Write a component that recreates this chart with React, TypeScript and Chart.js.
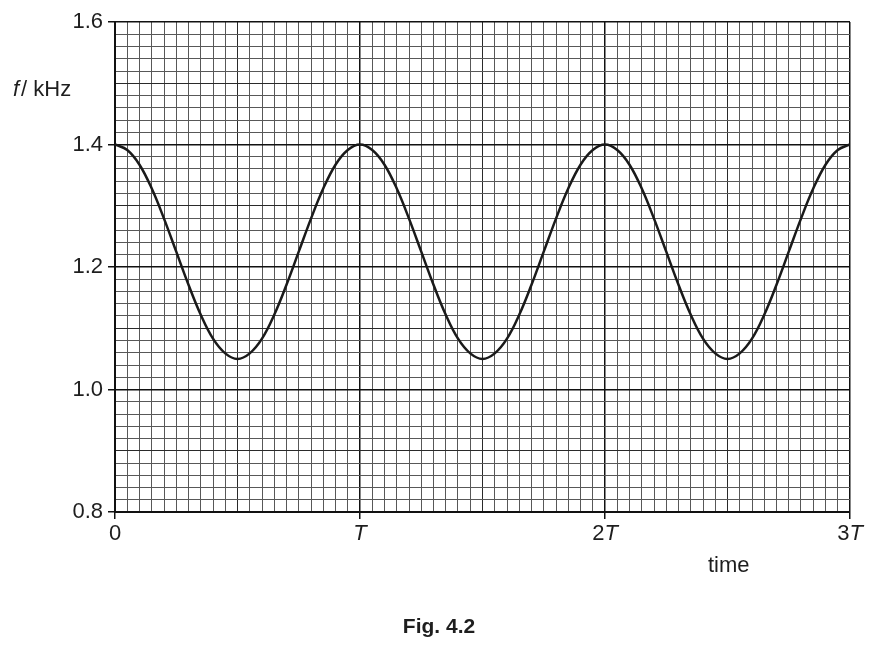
import React, { useEffect, useRef } from "react";
import { Chart, registerables } from "chart.js";

Chart.register(...registerables);

// time in units of the period T
const timeValues = [
  0, 0.05, 0.1, 0.15, 0.2, 0.25, 0.3, 0.35, 0.4, 0.45,
  0.5, 0.55, 0.6, 0.65, 0.7, 0.75, 0.8, 0.85, 0.9, 0.95,
  1.0, 1.05, 1.1, 1.15, 1.2, 1.25, 1.3, 1.35, 1.4, 1.45,
  1.5, 1.55, 1.6, 1.65, 1.7, 1.75, 1.8, 1.85, 1.9, 1.95,
  2.0, 2.05, 2.1, 2.15, 2.2, 2.25, 2.3, 2.35, 2.4, 2.45,
  2.5, 2.55, 2.6, 2.65, 2.7, 2.75, 2.8, 2.85, 2.9, 2.95,
  3.0,
];
// frequency f / kHz
const freqValues = [
  1.4, 1.391, 1.367, 1.328, 1.279, 1.225, 1.171, 1.122, 1.083, 1.059,
  1.05, 1.059, 1.083, 1.122, 1.171, 1.225, 1.279, 1.328, 1.367, 1.391,
  1.4, 1.391, 1.367, 1.328, 1.279, 1.225, 1.171, 1.122, 1.083, 1.059,
  1.05, 1.059, 1.083, 1.122, 1.171, 1.225, 1.279, 1.328, 1.367, 1.391,
  1.4, 1.391, 1.367, 1.328, 1.279, 1.225, 1.171, 1.122, 1.083, 1.059,
  1.05, 1.059, 1.083, 1.122, 1.171, 1.225, 1.279, 1.328, 1.367, 1.391,
  1.4,
];
const xTickValues = [0, 1, 2, 3];
const xTickLabels = [
  [{ t: "0", it: false }],
  [{ t: "T", it: true }],
  [{ t: "2", it: false }, { t: "T", it: true }],
  [{ t: "3", it: false }, { t: "T", it: true }],
];
const yAxisTitleParts = [
  { t: "f", it: true },
  { t: "/", it: false },
  { t: " kHz", it: false },
];
const xAxisTitle = "time";
const figureCaption = "Fig. 4.2";

const FAMILY = "'Liberation Sans', Arial, Helvetica, sans-serif";
const FONT_SIZE = 22;

const textPlugin = {
  id: "textPlugin",
  afterDraw(chart: any) {
    const ctx = chart.ctx as CanvasRenderingContext2D;
    const xs = chart.scales.x;
    ctx.save();
    ctx.fillStyle = "#1e1e1e";
    ctx.textBaseline = "alphabetic";
    ctx.textAlign = "left";
    const fontFor = (it: boolean) =>
      `${it ? "italic " : ""}${FONT_SIZE}px ${FAMILY}`;
    xTickValues.forEach((v, i) => {
      const parts = xTickLabels[i];
      let total = 0;
      const widths = parts.map((p) => {
        ctx.font = fontFor(p.it);
        const w = ctx.measureText(p.t).width;
        total += w;
        return w;
      });
      let x = xs.getPixelForValue(v) - total / 2;
      const y = chart.chartArea.bottom + 28;
      parts.forEach((p, j) => {
        ctx.font = fontFor(p.it);
        ctx.fillText(p.t, x, y);
        x += widths[j];
      });
    });
    let tx = 13;
    yAxisTitleParts.forEach((p) => {
      ctx.font = fontFor(p.it);
      ctx.fillText(p.t, tx, 96);
      tx += ctx.measureText(p.t).width + (p.it ? 2 : 0);
    });
    ctx.font = fontFor(false);
    ctx.fillText(xAxisTitle, 708, 572);
    ctx.font = `bold 21px ${FAMILY}`;
    ctx.textAlign = "center";
    ctx.fillText(figureCaption, 439, 633);
    ctx.restore();
  },
};

export default function App() {
  const ref = useRef<HTMLCanvasElement | null>(null);
  useEffect(() => {
    if (!ref.current) return;
    const points = timeValues.map((t, i) => ({ x: t, y: freqValues[i] }));
    const isMult = (v: number, step: number) =>
      Math.abs(Math.round(v / step) * step - v) < 1e-6;
    const chart = new Chart(ref.current, {
      type: "line",
      data: {
        datasets: [
          {
            data: points,
            borderColor: "#1a1a1a",
            borderWidth: 2.5,
            pointRadius: 0,
            fill: false,
            tension: 0.4,
          },
        ],
      },
      options: {
        animation: false,
        responsive: false,
        devicePixelRatio: 1,
        layout: { padding: { left: 0, top: 22, right: 33, bottom: 0 } },
        plugins: { legend: { display: false }, tooltip: { enabled: false } },
        scales: {
          x: {
            type: "linear",
            min: 0,
            max: 3,
            afterFit(scale: any) {
              scale.height = 137;
            },
            ticks: { stepSize: 0.05, display: false, autoSkip: false },
            border: { color: "#111", width: 2 },
            grid: {
              drawTicks: true,
              tickLength: 7,
              tickWidth: 1.5,
              tickColor: (c: any) =>
                isMult(c.tick.value, 1) ? "#111" : "rgba(0,0,0,0)",
              color: (c: any) => {
                const v = c.tick.value;
                if (isMult(v, 1)) return "#111";
                if (isMult(v, 0.5)) return "#2a2a2a";
                return "#585858";
              },
              lineWidth: (c: any) => (isMult(c.tick.value, 1) ? 1.5 : 1),
            },
          },
          y: {
            type: "linear",
            min: 0.8,
            max: 1.6,
            afterFit(scale: any) {
              scale.width = 115;
            },
            ticks: {
              stepSize: 0.02,
              autoSkip: false,
              padding: 5,
              color: "#1e1e1e",
              font: { family: FAMILY, size: FONT_SIZE },
              callback: (v: any) =>
                isMult(Number(v), 0.2) ? Number(v).toFixed(1) : "",
            },
            border: { color: "#111", width: 2 },
            grid: {
              drawTicks: true,
              tickLength: 7,
              tickWidth: 1.5,
              tickColor: (c: any) =>
                isMult(c.tick.value, 0.2) ? "#111" : "rgba(0,0,0,0)",
              color: (c: any) => {
                const v = c.tick.value;
                if (isMult(v, 0.2)) return "#111";
                if (isMult(v, 0.1)) return "#2a2a2a";
                return "#585858";
              },
              lineWidth: (c: any) => (isMult(c.tick.value, 0.2) ? 1.5 : 1),
            },
          },
        },
      },
      plugins: [textPlugin],
    } as any);
    return () => chart.destroy();
  }, []);
  return (
    <div
      style={{
        position: "absolute",
        left: 0,
        top: 0,
        width: 883,
        height: 649,
        background: "#fff",
      }}
    >
      <canvas ref={ref} width={883} height={649} />
    </div>
  );
}
